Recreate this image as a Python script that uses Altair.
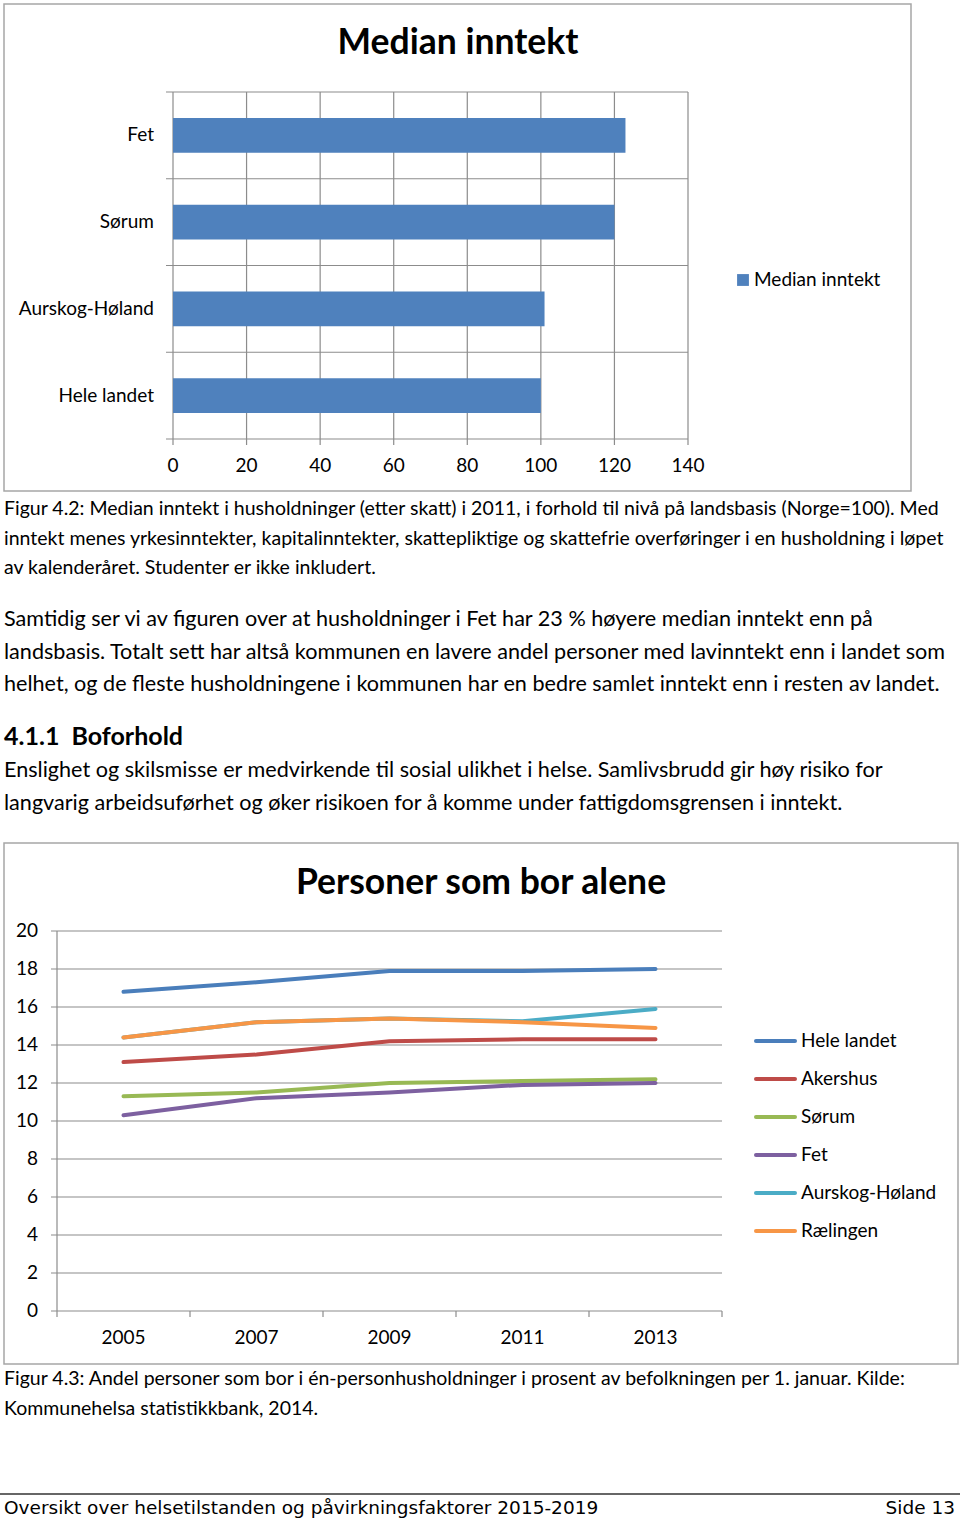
import altair as alt
import pandas as pd

# ---------------- data: chart 1 (Median inntekt) ----------------
bar_categories = ["Fet", "Sørum", "Aurskog-Høland", "Hele landet"]
bar_values = [123, 120, 101, 100]
bar_series = "Median inntekt"
bar_ticks = [0, 20, 40, 60, 80, 100, 120, 140]
bar_title = "Median inntekt"

# ---------------- data: chart 2 (Personer som bor alene) ----------------
years = [2005, 2007, 2009, 2011, 2013]
year_bounds = [2004, 2006, 2008, 2010, 2012, 2014]
line_series = ["Hele landet", "Akershus", "Sørum", "Fet", "Aurskog-Høland", "Rælingen"]
hele_landet = [16.8, 17.3, 17.9, 17.9, 18.0]
akershus = [13.1, 13.5, 14.2, 14.3, 14.3]
sorum = [11.3, 11.5, 12.0, 12.1, 12.2]
fet = [10.3, 11.2, 11.5, 11.9, 12.0]
aurskog_holand = [14.4, 15.2, 15.4, 15.25, 15.9]
raelingen = [14.4, 15.2, 15.4, 15.2, 14.9]
line_ticks = [0, 2, 4, 6, 8, 10, 12, 14, 16, 18, 20]
line_title = "Personer som bor alene"

# ---------------- page text ----------------
caption1 = [
    "Figur 4.2: Median inntekt i husholdninger (etter skatt) i 2011, i forhold til nivå på landsbasis (Norge=100). Med",
    "inntekt menes yrkesinntekter, kapitalinntekter, skattepliktige og skattefrie overføringer i en husholdning i løpet",
    "av kalenderåret. Studenter er ikke inkludert.",
]
para1 = [
    "Samtidig ser vi av figuren over at husholdninger i Fet har 23 % høyere median inntekt enn på",
    "landsbasis. Totalt sett har altså kommunen en lavere andel personer med lavinntekt enn i landet som",
    "helhet, og de fleste husholdningene i kommunen har en bedre samlet inntekt enn i resten av landet.",
]
heading = "4.1.1\u00a0\u00a0Boforhold"
para2 = [
    "Enslighet og skilsmisse er medvirkende til sosial ulikhet i helse. Samlivsbrudd gir høy risiko for",
    "langvarig arbeidsuførhet og øker risikoen for å komme under fattigdomsgrensen i inntekt.",
]
caption2 = [
    "Figur 4.3: Andel personer som bor i én-personhusholdninger i prosent av befolkningen per 1. januar. Kilde:",
    "Kommunehelsa statistikkbank, 2014.",
]
footer_left = "Oversikt over helsetilstanden og påvirkningsfaktorer 2015-2019"
footer_right = "Side 13"

# ---------------- styles ----------------
FONT = "Lato"
GRID = "#8C8C8C"
FRAME = "#A6A6A6"
BAR = "#4F81BD"
line_colors = ["#4A7EBB", "#BE4B48", "#98B954", "#7D60A0", "#4BACC6", "#F79646"]
LBL = 19

ONE = pd.DataFrame({"k": [0]})

# scales (pixel ranges place each sub-chart on the page)
X1 = alt.Scale(domain=[0, 140], range=[173, 688], nice=False, zero=False)
Y1 = alt.Scale(domain=bar_categories, range=[92, 439], paddingInner=0.6, paddingOuter=0.3)
S1 = alt.Scale(domain=[0, 4], range=[92, 439], nice=False, zero=False)
X2 = alt.Scale(domain=[2004, 2014], range=[57, 722], nice=False, zero=False)
Y2 = alt.Scale(domain=[0, 20], range=[1311, 931], nice=False, zero=False)
LEG2 = alt.Scale(type="point", domain=line_series, range=[1041, 1231], padding=0)
COL2 = alt.Scale(domain=line_series, range=line_colors)

layers = []

# frames
for (x0, x1, y0, y1) in [(4, 911, 4, 491), (4, 958, 843, 1364)]:
    layers.append(
        alt.Chart(ONE).mark_rect(fill="white", stroke=FRAME, strokeWidth=1.5).encode(
            x=alt.value(x0), x2=alt.value(x1), y=alt.value(y0), y2=alt.value(y1)
        )
    )

# ---------- chart 1 ----------
bar_df = pd.DataFrame({"cat": bar_categories, "val": bar_values})
tick_df1 = pd.DataFrame({"v": bar_ticks, "lab": [str(t) for t in bar_ticks]})
slot_df = pd.DataFrame({"s": list(range(len(bar_categories) + 1))})

layers.append(
    alt.Chart(tick_df1).mark_rule(color=GRID, strokeWidth=1.2).encode(
        x=alt.X("v:Q", scale=X1, axis=None), y=alt.value(92), y2=alt.value(445)
    )
)
layers.append(
    alt.Chart(slot_df).mark_rule(color=GRID, strokeWidth=1.2).encode(
        y=alt.Y("s:Q", scale=S1, axis=None), x=alt.value(166), x2=alt.value(688)
    )
)
layers.append(
    alt.Chart(bar_df).mark_bar(color=BAR).encode(
        x=alt.X("val:Q", scale=X1, axis=None, stack=None),
        y=alt.Y("cat:N", scale=Y1, axis=None),
    )
)
layers.append(
    alt.Chart(bar_df).mark_text(align="right", baseline="middle", font=FONT, fontSize=LBL, color="black").encode(
        y=alt.Y("cat:N", scale=Y1, axis=None), x=alt.value(154), text="cat:N"
    )
)
layers.append(
    alt.Chart(tick_df1).mark_text(align="center", baseline="middle", font=FONT, fontSize=LBL, color="black").encode(
        x=alt.X("v:Q", scale=X1, axis=None), y=alt.value(466), text="lab:N"
    )
)
layers.append(
    alt.Chart(ONE).mark_text(align="center", baseline="middle", font=FONT, fontSize=35.5, fontWeight="bold", color="black").encode(
        x=alt.value(458), y=alt.value(43), text=alt.value(bar_title)
    )
)
leg1_df = pd.DataFrame({"name": [bar_series]})
layers.append(
    alt.Chart(leg1_df).mark_square(size=140, color=BAR, opacity=1).encode(
        x=alt.value(743), y=alt.value(280)
    )
)
layers.append(
    alt.Chart(leg1_df).mark_text(align="left", baseline="middle", font=FONT, fontSize=LBL, color="black").encode(
        x=alt.value(754), y=alt.value(280), text="name:N"
    )
)

# ---------- chart 2 ----------
tick_df2 = pd.DataFrame({"v": line_ticks, "lab": [str(t) for t in line_ticks]})
yb_df = pd.DataFrame({"v": year_bounds})
yr_df = pd.DataFrame({"v": years, "lab": [str(y) for y in years]})

layers.append(
    alt.Chart(tick_df2).mark_rule(color=GRID, strokeWidth=1.2).encode(
        y=alt.Y("v:Q", scale=Y2, axis=None), x=alt.value(51), x2=alt.value(722)
    )
)
layers.append(
    alt.Chart(ONE).mark_rule(color=GRID, strokeWidth=1.2).encode(
        x=alt.value(57), y=alt.value(931), y2=alt.value(1311)
    )
)
layers.append(
    alt.Chart(yb_df).mark_rule(color=GRID, strokeWidth=1.2).encode(
        x=alt.X("v:Q", scale=X2, axis=None), y=alt.value(1311), y2=alt.value(1317)
    )
)
layers.append(
    alt.Chart(tick_df2).mark_text(align="right", baseline="middle", font=FONT, fontSize=LBL, color="black").encode(
        y=alt.Y("v:Q", scale=Y2, axis=None), x=alt.value(38), text="lab:N"
    )
)
layers.append(
    alt.Chart(yr_df).mark_text(align="center", baseline="middle", font=FONT, fontSize=LBL, color="black").encode(
        x=alt.X("v:Q", scale=X2, axis=None), y=alt.value(1338), text="lab:N"
    )
)
layers.append(
    alt.Chart(ONE).mark_text(align="center", baseline="middle", font=FONT, fontSize=35.5, fontWeight="bold", color="black").encode(
        x=alt.value(481), y=alt.value(883), text=alt.value(line_title)
    )
)

series_values = [hele_landet, akershus, sorum, fet, aurskog_holand, raelingen]
for name, vals in zip(line_series, series_values):
    df = pd.DataFrame({"year": years, "value": vals, "series": name})
    layers.append(
        alt.Chart(df).mark_line(strokeWidth=4, strokeCap="round", strokeJoin="round").encode(
            x=alt.X("year:Q", scale=X2, axis=None),
            y=alt.Y("value:Q", scale=Y2, axis=None),
            color=alt.Color("series:N", scale=COL2, legend=None),
        )
    )

leg2_df = pd.DataFrame({"series": line_series})
layers.append(
    alt.Chart(leg2_df).mark_rule(strokeWidth=4, strokeCap="round").encode(
        y=alt.Y("series:N", scale=LEG2, axis=None),
        x=alt.value(756), x2=alt.value(795),
        color=alt.Color("series:N", scale=COL2, legend=None),
    )
)
layers.append(
    alt.Chart(leg2_df).mark_text(align="left", baseline="middle", font=FONT, fontSize=LBL, color="black").encode(
        y=alt.Y("series:N", scale=LEG2, axis=None), x=alt.value(801), text="series:N"
    )
)

# ---------- page text ----------
def text_lines(lines, y0, step, size, weight="normal", font=FONT):
    out = []
    for i, line in enumerate(lines):
        out.append(
            alt.Chart(ONE).mark_text(align="left", baseline="middle", font=font, fontSize=size,
                                     fontWeight=weight, color="black").encode(
                x=alt.value(4), y=alt.value(y0 + i * step), text=alt.value(line)
            )
        )
    return out

layers += text_lines(caption1, 509, 29.5, 19.5)
layers += text_lines(para1, 620, 32.5, 21.6)
layers += text_lines([heading], 737, 0, 25, weight="bold")
layers += text_lines(para2, 771, 33, 21.6)
layers += text_lines(caption2, 1379, 29.5, 19.5)

layers.append(
    alt.Chart(ONE).mark_rule(color="#333333", strokeWidth=1.5).encode(
        x=alt.value(0), x2=alt.value(960), y=alt.value(1494)
    )
)
layers += text_lines([footer_left], 1508, 0, 18.5, font="DejaVu Sans")
layers.append(
    alt.Chart(ONE).mark_text(align="right", baseline="middle", font="DejaVu Sans", fontSize=18.5, color="black").encode(
        x=alt.value(955), y=alt.value(1508), text=alt.value(footer_right)
    )
)

chart = alt.layer(*layers).resolve_scale(
    x="independent", y="independent", color="independent"
).properties(
    width=960, height=1521, padding=0,
    autosize=alt.AutoSizeParams(type="none"),
    background="white",
).configure_view(strokeWidth=0)

chart.save("out.html", embed_options={"renderer": "svg", "actions": False})
